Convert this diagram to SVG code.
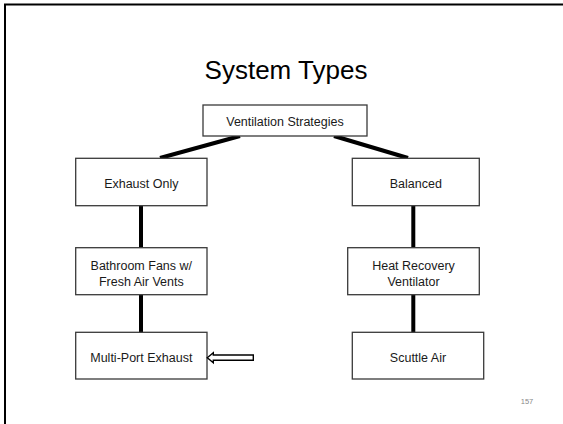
<svg xmlns="http://www.w3.org/2000/svg" width="563" height="424" viewBox="0 0 563 424">
<style>
.box{fill:#fff;stroke:#3a3a3a;stroke-width:1.3}
.lbl{font-family:"Liberation Sans",Arial,sans-serif;font-size:12.5px;fill:#1a1a1a;text-anchor:middle}
.conn{stroke:#000;stroke-width:4;fill:none}
</style>
<rect width="563" height="424" fill="#fff"/>
<g id="frame" stroke="#000" stroke-width="2" fill="none">
<line x1="4" y1="4.5" x2="563" y2="4.5"/>
<line x1="5" y1="4" x2="5" y2="424"/>
</g>
<text x="286" y="78.5" font-family="'Liberation Sans',Arial,sans-serif" font-size="26" fill="#000" text-anchor="middle">System Types</text>
<g id="connectors">
<line class="conn" x1="240" y1="136" x2="160" y2="158"/>
<line class="conn" x1="334" y1="136" x2="408" y2="158"/>
<line class="conn" x1="141" y1="205.7" x2="141" y2="247.7"/>
<line class="conn" x1="141" y1="294.7" x2="141" y2="332.3"/>
<line class="conn" x1="413.3" y1="205.7" x2="413.3" y2="247.7"/>
<line class="conn" x1="413.3" y1="294.7" x2="413.3" y2="332.3"/>
</g>
<g id="n-ventilation">
<rect class="box" x="203" y="105" width="164" height="31"/>
<text class="lbl" x="285" y="125.5">Ventilation Strategies</text>
</g>
<g id="n-exhaust">
<rect class="box" x="75.7" y="158.3" width="131.3" height="47.4"/>
<text class="lbl" x="141.3" y="188">Exhaust Only</text>
</g>
<g id="n-bathroom">
<rect class="box" x="75.7" y="247.7" width="131.3" height="47"/>
<text class="lbl" x="141.3" y="269.5">Bathroom Fans w/</text>
<text class="lbl" x="141.3" y="285.5">Fresh Air Vents</text>
</g>
<g id="n-multiport">
<rect class="box" x="75.7" y="332.3" width="131.3" height="46.7"/>
<text class="lbl" x="141.3" y="362">Multi-Port Exhaust</text>
</g>
<g id="n-balanced">
<rect class="box" x="352.3" y="158.3" width="127" height="47.4"/>
<text class="lbl" x="415.8" y="188">Balanced</text>
</g>
<g id="n-hrv">
<rect class="box" x="347.7" y="247.7" width="131.6" height="47"/>
<text class="lbl" x="413.5" y="269.5">Heat Recovery</text>
<text class="lbl" x="413.5" y="285.5">Ventilator</text>
</g>
<g id="n-scuttle">
<rect class="box" x="352.3" y="332.3" width="131.4" height="46.7"/>
<text class="lbl" x="418" y="362">Scuttle Air</text>
</g>
<g id="arrow">
<polygon points="207.3,357.7 213.3,352.7 213.3,355 253.3,355 253.3,360.3 213.3,360.3 213.3,362.7" fill="#fff" stroke="#000" stroke-width="1.4" stroke-linejoin="miter"/>
</g>
<text x="527" y="404" font-family="'Liberation Sans',Arial,sans-serif" font-size="7.5" fill="#888" text-anchor="middle">157</text>
</svg>
